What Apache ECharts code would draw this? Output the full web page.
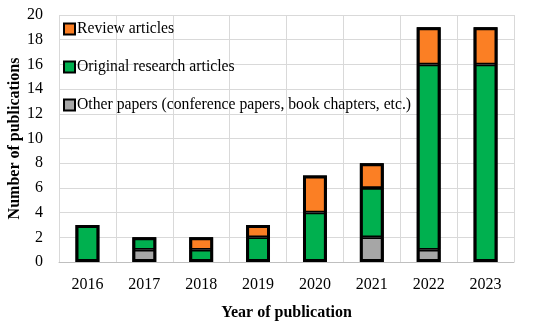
<!DOCTYPE html>
<html><head><meta charset="utf-8">
<script src="https://cdn.jsdelivr.net/npm/echarts@6/dist/echarts.min.js"></script>
<style>html,body{margin:0;padding:0;background:#fff}#c{width:550px;height:328px}</style>
</head><body><div id="c"></div>
<script>
const years = ['2016','2017','2018','2019','2020','2021','2022','2023'];
const otherPapers = [0,1,0,0,0,2,1,0];
const originalArticles = [3,1,1,2,4,4,15,16];
const reviewArticles = [0,0,1,1,3,2,3,3];
const yTicks = {min:0, max:20, interval:2};

const totals = years.map((_, i) => otherPapers[i] + originalArticles[i] + reviewArticles[i]);
const font = '"Liberation Serif", "DejaVu Serif", serif';
const toData = a => a.map(v => v === 0 ? '-' : v);
const barStyle = c => ({color:c, borderColor:'#000', borderWidth:1.75});
const chart = echarts.init(document.getElementById('c'), null, {renderer:'canvas'});
chart.setOption({
  animation:false,
  grid:{left:59, right:36, top:15, bottom:66, outerBoundsMode:'none', containLabel:false},
  legend:{
    orient:'vertical', left:58, top:16, itemGap:22,
    itemWidth:11, itemHeight:11, icon:'rect',
    itemStyle:{borderWidth:2, borderColor:'#000'},
    data:['Review articles','Original research articles','Other papers (conference papers, book chapters, etc.)'],
    textStyle:{fontFamily:font, fontSize:15.7, color:'#000', padding:[0,0,0,-3]}
  },
  xAxis:{
    type:'category', data:years,
    axisLine:{lineStyle:{color:'#bfbfbf'}},
    axisTick:{show:false},
    splitLine:{show:true, lineStyle:{color:'#d9d9d9'}},
    axisLabel:{fontFamily:font, fontSize:16, color:'#000', margin:15},
    name:'Year of publication', nameLocation:'middle', nameGap:43,
    nameTextStyle:{fontFamily:font, fontSize:16, fontWeight:'bold', color:'#000'}
  },
  yAxis:{
    type:'value', min:yTicks.min, max:yTicks.max, interval:yTicks.interval,
    axisLine:{show:false}, axisTick:{show:false},
    splitLine:{lineStyle:{color:'#d9d9d9'}},
    axisLabel:{fontFamily:font, fontSize:16, color:'#000', margin:16},
    name:'Number of publications', nameLocation:'middle', nameGap:36, nameMoveOverlap:false,
    nameTextStyle:{fontFamily:font, fontSize:16, fontWeight:'bold', color:'#000'}
  },
  series:[
    {name:'Other papers (conference papers, book chapters, etc.)', type:'bar', stack:'a', barWidth:'42%', data:toData(otherPapers), itemStyle:barStyle('#a6a6a6')},
    {name:'Original research articles', type:'bar', stack:'a', barWidth:'42%', data:toData(originalArticles), itemStyle:barStyle('#00b04f')},
    {name:'Review articles', type:'bar', stack:'a', barWidth:'42%', data:toData(reviewArticles), itemStyle:barStyle('#fb7f24')},
    {name:'outline', type:'bar', barWidth:'42%', barGap:'-100%', z:5, silent:true, data:totals,
     itemStyle:{color:'rgba(0,0,0,0)', borderColor:'#000', borderWidth:3}}
  ]
});
</script></body></html>
